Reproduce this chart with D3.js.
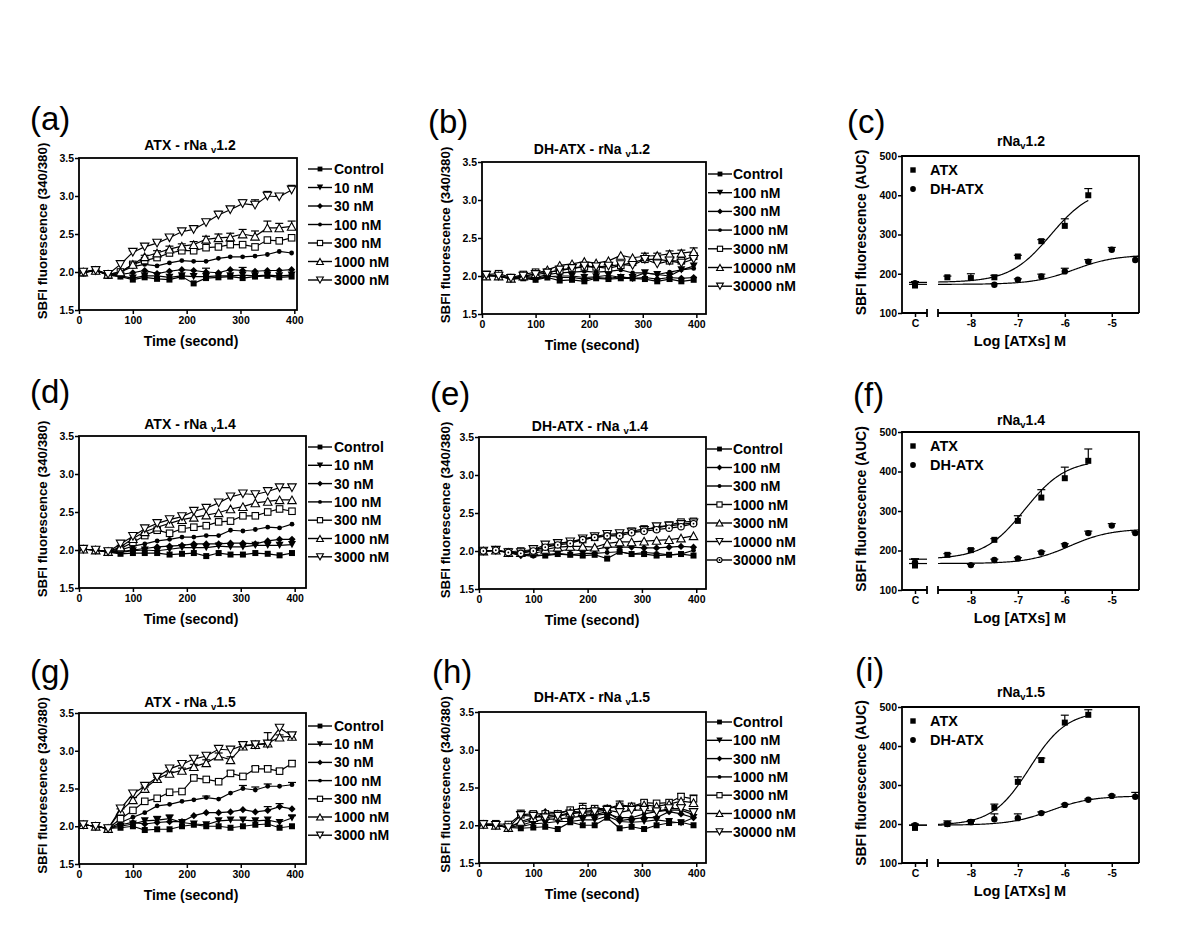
<!DOCTYPE html>
<html><head><meta charset="utf-8">
<script src="https://cdn.jsdelivr.net/npm/d3@7"></script>
<style>body{margin:0;background:#fff} svg{display:block}</style>
</head><body><svg id="c" width="1200" height="942"></svg>
<script>
// ---------------- DATA ----------------
const time = [8,31,54,77,100,122,145,168,191,213,236,259,281,304,327,350,372,395];
const timeTicks = [0,100,200,300,400];
const ratioTicks = [1.5,2.0,2.5,3.0,3.5];
const aucTicks = [100,200,300,400,500];
const logTicks = [-8,-7,-6,-5];

const atxLegend = ["Control","10 nM","30 nM","100 nM","300 nM","1000 nM","3000 nM"];
const dhLegend  = ["Control","100 nM","300 nM","1000 nM","3000 nM","10000 nM","30000 nM"];

// (a) ATX - rNav1.2 : Control,10,30,100,300,1000,3000 nM
const a_vals = [
 [1.98,2.03,1.96,1.94,1.90,1.93,1.91,1.90,1.94,1.85,1.92,1.93,1.94,1.92,1.94,1.95,1.93,1.94],
 [1.99,2.02,1.96,1.95,1.92,1.95,1.95,1.93,1.95,1.94,1.94,1.95,1.95,1.96,1.95,1.96,1.95,1.96],
 [2.00,2.03,1.97,1.97,1.99,2.02,1.98,2.01,2.03,2.02,2.00,1.99,2.03,2.02,2.01,2.02,2.02,2.03],
 [2.00,2.02,1.97,2.00,2.07,2.10,2.08,2.12,2.15,2.14,2.14,2.18,2.20,2.20,2.21,2.23,2.27,2.25],
 [2.00,2.02,1.96,2.00,2.10,2.15,2.19,2.25,2.28,2.28,2.32,2.33,2.36,2.36,2.33,2.42,2.41,2.45],
 [2.00,2.02,1.97,2.00,2.10,2.20,2.25,2.30,2.34,2.36,2.43,2.45,2.46,2.50,2.47,2.58,2.58,2.60],
 [2.00,2.02,1.97,2.10,2.26,2.33,2.38,2.45,2.53,2.56,2.65,2.75,2.82,2.90,2.88,3.00,2.99,3.08]];
const a_err = [null,null,
 [0,0,0,0,0,0,0,0,0,0,0.05,0,0,0.04,0,0,0,0],
 null,null,
 [0,0,0,0,0.02,0.02,0.03,0.04,0.03,0.04,0.04,0.05,0.05,0.06,0.07,0.09,0.06,0.07],
 [0,0,0,0,0.02,0.02,0.02,0.03,0.02,0.02,0.04,0.05,0.03,0.05,0.07,0.06,0.02,0.06]];

// (b) DH-ATX - rNav1.2 : Control,100,300,1000,3000,10000,30000 nM
const b_vals = [
 [2.00,2.00,1.96,1.97,1.95,1.98,1.94,1.95,1.93,1.97,1.96,1.97,1.97,1.96,1.93,1.96,1.93,1.95],
 [2.01,2.00,1.96,1.98,1.96,1.99,2.00,2.00,1.98,1.99,2.01,1.98,1.98,2.04,2.02,2.00,2.08,2.13],
 [2.02,2.00,1.97,1.98,1.97,2.00,1.98,1.98,1.96,1.98,1.97,1.99,1.97,1.98,1.96,1.98,1.97,1.98],
 [2.01,2.00,1.97,2.00,1.98,2.02,2.04,2.05,2.06,2.05,2.06,2.08,2.04,2.04,2.02,2.05,2.08,2.10],
 [2.02,2.03,1.98,2.02,2.05,2.05,2.07,2.10,2.12,2.12,2.10,2.14,2.18,2.22,2.22,2.20,2.20,2.26],
 [2.00,2.00,1.97,2.00,2.03,2.08,2.14,2.16,2.19,2.17,2.20,2.27,2.24,2.26,2.27,2.29,2.30,2.32],
 [2.01,2.00,1.97,2.00,2.02,2.04,2.08,2.10,2.13,2.12,2.13,2.15,2.14,2.22,2.16,2.20,2.17,2.22]];
const b_err = [null,null,null,null,
 [0,0,0,0,0,0,0,0,0,0,0,0,0,0,0,0,0,0.04],
 [0,0,0,0,0,0,0,0,0,0,0,0,0,0.04,0.03,0.04,0.04,0.05],
 null];

// (d) ATX - rNav1.4
const d_vals = [
 [2.01,2.00,1.97,1.95,1.96,1.96,1.96,1.94,1.95,1.96,1.92,1.96,1.94,1.94,1.96,1.95,1.93,1.96],
 [2.01,2.00,1.97,1.97,1.99,2.00,1.99,2.01,2.03,2.03,2.03,2.05,2.04,2.04,2.06,2.06,2.06,2.07],
 [2.01,2.00,1.98,1.98,2.00,2.02,2.04,2.05,2.06,2.08,2.08,2.08,2.09,2.09,2.08,2.12,2.14,2.14],
 [2.01,2.00,1.98,2.00,2.05,2.08,2.12,2.14,2.17,2.17,2.19,2.19,2.26,2.25,2.27,2.30,2.29,2.34],
 [2.01,2.00,1.98,2.02,2.10,2.19,2.26,2.22,2.28,2.30,2.32,2.37,2.38,2.45,2.45,2.50,2.54,2.51],
 [2.01,2.00,1.98,2.04,2.15,2.24,2.30,2.35,2.40,2.43,2.46,2.49,2.54,2.57,2.62,2.64,2.66,2.66],
 [2.01,2.00,1.98,2.08,2.18,2.28,2.35,2.40,2.44,2.51,2.55,2.62,2.70,2.74,2.73,2.77,2.82,2.82]];
const d_err = [null,null,null,null,null,null,null];

// (e) DH-ATX - rNav1.4
const e_vals = [
 [2.00,2.00,1.99,1.96,1.95,1.94,1.96,1.95,1.94,1.95,1.90,1.99,1.96,1.96,1.94,1.95,1.96,1.94],
 [2.00,2.01,1.98,1.94,1.97,2.00,2.00,2.02,2.00,2.02,2.05,2.05,2.05,2.04,2.04,2.05,2.06,2.05],
 [2.00,2.00,1.98,1.95,1.93,1.95,1.97,1.95,1.97,1.97,1.98,1.99,1.96,1.98,1.97,1.95,1.96,2.01],
 [2.00,2.01,1.99,2.00,2.02,2.05,2.10,2.12,2.15,2.18,2.20,2.22,2.26,2.29,2.30,2.34,2.38,2.39],
 [2.00,2.01,1.98,1.98,2.00,2.02,2.05,2.06,2.06,2.05,2.10,2.12,2.12,2.13,2.14,2.15,2.17,2.20],
 [2.00,2.01,1.98,1.98,2.02,2.08,2.10,2.12,2.16,2.19,2.22,2.23,2.25,2.27,2.32,2.33,2.35,2.37],
 [2.00,2.01,1.98,1.97,2.00,2.05,2.08,2.10,2.15,2.18,2.20,2.20,2.24,2.26,2.28,2.30,2.32,2.36]];
const e_err = [null,null,null,null,null,null,null];

// (g) ATX - rNav1.5
const g_vals = [
 [2.02,2.00,1.97,1.98,2.00,1.95,1.96,1.96,2.00,2.02,2.00,2.00,1.98,2.00,2.02,2.03,1.98,2.00],
 [2.02,2.00,1.97,2.00,2.03,2.07,2.08,2.10,2.05,2.03,2.02,2.07,2.08,2.08,2.07,2.08,2.05,2.11],
 [2.02,2.00,1.97,2.02,2.05,2.03,2.05,2.06,2.06,2.14,2.18,2.18,2.19,2.22,2.19,2.21,2.26,2.23],
 [2.02,2.00,1.97,2.05,2.12,2.18,2.27,2.29,2.33,2.35,2.38,2.36,2.44,2.50,2.48,2.53,2.53,2.55],
 [2.02,2.00,1.97,2.10,2.21,2.33,2.37,2.45,2.46,2.64,2.62,2.59,2.70,2.66,2.76,2.76,2.73,2.83],
 [2.02,2.00,1.97,2.20,2.35,2.50,2.63,2.70,2.74,2.79,2.84,2.93,2.88,3.06,3.08,3.10,3.18,3.19],
 [2.02,2.00,1.97,2.23,2.43,2.53,2.65,2.76,2.82,2.89,2.93,3.02,3.01,3.07,3.08,3.09,3.30,3.20]];
const g_err = [null,
 [0,0,0,0,0,0,0.05,0.05,0,0,0,0,0,0,0,0,0,0.03],
 [0,0,0,0,0,0,0,0,0,0,0,0,0,0,0,0.05,0.04,0],
 [0,0,0,0,0,0,0,0,0,0,0.02,0,0,0.04,0.04,0.03,0,0.03],
 [0,0,0,0,0,0,0,0,0,0.03,0,0,0.03,0,0.03,0.04,0.03,0.04],
 [0,0,0,0.03,0.03,0.02,0.02,0.02,0.03,0.03,0.04,0.04,0.04,0.02,0.02,0.02,0.03,0.03],
 [0,0,0,0.04,0.04,0.02,0.02,0.02,0.03,0.03,0.04,0.04,0.03,0.02,0.03,0.15,0.03,0.03]];

// (h) DH-ATX - rNav1.5
const h_vals = [
 [2.00,2.00,1.97,1.96,1.97,1.98,1.95,2.04,2.00,2.00,2.10,1.96,1.98,1.95,2.00,2.03,2.04,2.00],
 [2.00,2.00,1.97,1.98,2.02,2.03,2.05,2.05,2.07,2.07,2.12,2.05,2.04,2.05,2.07,2.05,2.03,2.10],
 [2.01,2.01,1.98,2.03,2.08,2.18,2.16,2.20,2.15,2.14,2.18,2.06,2.08,2.10,2.10,2.18,2.15,2.10],
 [2.00,2.00,1.97,2.00,2.05,2.08,2.08,2.10,2.12,2.13,2.15,2.10,2.10,2.15,2.18,2.20,2.20,2.14],
 [2.02,2.02,2.01,2.14,2.15,2.15,2.15,2.20,2.22,2.22,2.22,2.25,2.25,2.30,2.29,2.30,2.38,2.35],
 [2.01,2.00,1.97,2.05,2.10,2.13,2.12,2.17,2.18,2.20,2.22,2.27,2.25,2.27,2.25,2.28,2.32,2.30],
 [2.01,2.00,1.97,2.13,2.12,2.10,2.12,2.15,2.17,2.18,2.20,2.17,2.20,2.20,2.18,2.22,2.22,2.17]];
const h_err = [null,null,null,null,
 [0,0,0,0.06,0.03,0,0.04,0,0.07,0,0,0.07,0,0.03,0,0,0.04,0.05],
 null,null];

// Dose-response panels: log concentration (M)
const atxLog = [-8.5,-8,-7.5,-7,-6.5,-6,-5.5];
const c_dhLog = [-7.5,-7,-6.5,-6,-5.5,-5,-4.5];
const f_dhLog = [-8,-7.5,-7,-6.5,-6,-5.5,-5,-4.5];
const i_dhLog = [-8.5,-8,-7.5,-7,-6.5,-6,-5.5,-5,-4.5];

const c_atx = [191,189,191,244,283,322,400], c_atxErr = [3,11,5,3,4,18,17];
const c_dh  = [172,185,193,206,231,261,235], c_dhErr  = [3,2,6,8,5,6,9];
const c_ctrl = [170,176], c_ctrlErr = [10,4];          // [ATX, DH-ATX]
const c_fitAtx = [178,420,-6.3,1.0], c_fitDh = [173,248,-5.8,1.0]; // bottom, top, logEC50, hill

const f_atx = [189,201,227,275,334,383,427], f_atxErr = [3,3,3,13,20,28,30];
const f_dh  = [163,176,180,195,214,244,263,244], f_dhErr = [2,2,2,3,3,5,5,3];
const f_ctrl = [162,170], f_ctrlErr = [17,8];
const f_fitAtx = [178,430,-6.85,1.0], f_fitDh = [167,255,-5.9,1.0];

const i_atx = [200,205,242,308,364,460,480], i_atxErr = [8,4,9,13,5,19,13];
const i_dh  = [200,205,212,215,228,249,262,272,270], i_dhErr = [3,2,14,11,3,2,2,2,11];
const i_ctrl = [190,197], i_ctrlErr = [8,3];
const i_fitAtx = [197,490,-6.75,1.1], i_fitDh = [197,272,-6.3,1.0];

// ---------------- DRAWING ----------------
const FONT = 'Arial, "Liberation Sans", sans-serif';
const svg = d3.select('#c');

const atxMarkers = ['fsq','fdn','fdia','fcir','osq','oup','odn'];
const dh12Markers = ['fsq','fdn','fdia','fcir','osq','oup','odn'];
const dh14Markers = ['fsq','fdia','fcir','osq','oup','odn','ocir'];

function marker(g, type, x, y, k){
  k = k || 1;
  const tri = (w, up) => { w *= k; const h = w*0.9; const s = up?1:-1;
    return `M${x},${y - s*h/2}L${x + w/2},${y + s*h/2}L${x - w/2},${y + s*h/2}Z`; };
  const sq = (s) => { s *= k; return [x-s/2, y-s/2, s]; };
  switch(type){
    case 'fsq': { const [a,b,s] = sq(6); g.append('rect').attr('x',a).attr('y',b).attr('width',s).attr('height',s).attr('fill','#000'); break; }
    case 'osq': { const [a,b,s] = sq(6.5); g.append('rect').attr('x',a).attr('y',b).attr('width',s).attr('height',s).attr('fill','#fff').attr('stroke','#000').attr('stroke-width',1.1); break; }
    case 'fdn': g.append('path').attr('d',tri(8,false)).attr('fill','#000'); break;
    case 'odn': g.append('path').attr('d',tri(8.5,false)).attr('fill','#fff').attr('stroke','#000').attr('stroke-width',1.1); break;
    case 'oup': g.append('path').attr('d',tri(8.5,true)).attr('fill','#fff').attr('stroke','#000').attr('stroke-width',1.1); break;
    case 'fdia': { const r = 3.6*k; g.append('path').attr('d',`M${x},${y-r}L${x+r},${y}L${x},${y+r}L${x-r},${y}Z`).attr('fill','#000'); break; }
    case 'fcir': g.append('circle').attr('cx',x).attr('cy',y).attr('r',2.4*k).attr('fill','#000'); break;
    case 'dcir': g.append('circle').attr('cx',x).attr('cy',y).attr('r',3.2*k).attr('fill','#000'); break;
    case 'ocir': g.append('circle').attr('cx',x).attr('cy',y).attr('r',3.2*k).attr('fill','#fff').attr('stroke','#000').attr('stroke-width',1.1);
                 g.append('circle').attr('cx',x).attr('cy',y).attr('r',0.9).attr('fill','#000'); break;
  }
}

function styleAxis(sel, fs){
  sel.select('.domain').remove();
  sel.attr('font-family', FONT).attr('font-size', fs || 10.5).attr('font-weight','bold');
  sel.selectAll('text').attr('fill','#000');
  sel.selectAll('line').attr('stroke','#000').attr('stroke-width',1.5);
}

function errBar(g, x, yv, ytop){
  g.append('line').attr('x1',x).attr('x2',x).attr('y1',yv).attr('y2',ytop).attr('stroke','#000').attr('stroke-width',1.2);
  g.append('line').attr('x1',x-4).attr('x2',x+4).attr('y1',ytop).attr('y2',ytop).attr('stroke','#000').attr('stroke-width',1.2);
}

function title(g, parts, x, y){
  const t = g.append('text').attr('x',x).attr('y',y).attr('text-anchor','middle')
    .attr('font-family',FONT).attr('font-weight','bold').attr('font-size',14).attr('fill','#000');
  t.append('tspan').text(parts[0]);
  t.append('tspan').attr('font-size',9.5).attr('dy',3).text(parts[1]);
  t.append('tspan').attr('dy',-3).text(parts[2]);
}

function panelLabel(txt, x, y){
  svg.append('text').attr('x',x).attr('y',y).attr('font-family',FONT).attr('font-size',33).attr('fill','#000').text(txt);
}

function timePanel(o){
  const g = svg.append('g');
  const x = d3.scaleLinear().domain([0,o.xmax]).range([o.x0,o.x1]);
  const y = d3.scaleLinear().domain([1.5,3.5]).range([o.y1,o.y0]);
  g.append('g').attr('transform',`translate(${o.x0},0)`)
    .call(d3.axisLeft(y).tickValues(ratioTicks).tickFormat(d3.format('.1f')).tickSize(4).tickPadding(1))
    .call(s=>styleAxis(s));
  g.append('g').attr('transform',`translate(0,${o.y1})`)
    .call(d3.axisBottom(x).tickValues(timeTicks).tickSize(4).tickPadding(3))
    .call(s=>styleAxis(s));
  // series
  o.vals.forEach((vals, si) => {
    const sg = g.append('g');
    const err = o.err[si];
    if (err) err.forEach((e,i)=>{ if(e>0) errBar(sg, x(time[i]), y(vals[i]), y(vals[i]+e)); });
    sg.append('path').datum(vals).attr('fill','none').attr('stroke','#000').attr('stroke-width',1.2)
      .attr('d', d3.line().x((d,i)=>x(time[i])).y(d=>y(d)));
    vals.forEach((v,i)=>marker(sg, o.markers[si], x(time[i]), y(v)));
  });
  g.append('rect').attr('x',o.x0).attr('y',o.y0).attr('width',o.x1-o.x0).attr('height',o.y1-o.y0)
    .attr('fill','none').attr('stroke','#000').attr('stroke-width',1.8);
  // legend
  o.labels.forEach((lab, i) => {
    const ly = o.legY + i*o.legStep;
    g.append('line').attr('x1',o.legX[0]).attr('x2',o.legX[1]).attr('y1',ly).attr('y2',ly).attr('stroke','#000').attr('stroke-width',1.4);
    marker(g, o.markers[i], (o.legX[0]+o.legX[1])/2, ly, 0.8);
    g.append('text').attr('x',o.legX[2]).attr('y',ly).attr('dy','0.36em').attr('font-family',FONT)
      .attr('font-weight','bold').attr('font-size',14).attr('fill','#000').text(lab);
  });
  title(g, o.title, o.titleX, o.titleY);
  g.append('text').attr('transform',`translate(${o.ylabX},${(o.y0+o.y1)/2 - 3}) rotate(-90)`).attr('text-anchor','middle')
    .attr('font-family',FONT).attr('font-weight','bold').attr('font-size',13.3).attr('fill','#000').text('SBFI fluorescence (340/380)');
  g.append('text').attr('x',o.xlabX).attr('y',o.y1+36).attr('text-anchor','middle')
    .attr('font-family',FONT).attr('font-weight','bold').attr('font-size',14).attr('fill','#000').text('Time (second)');
}

function sigmoid(p, lx){ return p[0] + (p[1]-p[0])/(1+Math.pow(10,(p[2]-lx)*p[3])); }

function dosePanel(o){
  const g = svg.append('g');
  const X0 = 902, X1 = 1139, BR1 = 927, BR2 = 938, XC = 915;
  const x = d3.scaleLinear().domain([-8.7,-4.42]).range([BR2, X1]);
  const y = d3.scaleLinear().domain([100,500]).range([o.y1,o.y0]);
  g.append('g').attr('transform',`translate(${X0},0)`)
    .call(d3.axisLeft(y).tickValues(aucTicks).tickSize(4).tickPadding(1))
    .call(s=>styleAxis(s));
  g.append('g').attr('transform',`translate(0,${o.y1})`)
    .call(d3.axisBottom(x).tickValues(logTicks).tickFormat(d=>String(d)).tickSize(4).tickPadding(3))
    .call(s=>styleAxis(s));
  g.append('g').attr('transform',`translate(${XC},${o.y1})`)
    .call(d3.axisBottom(d3.scaleLinear().domain([0,1]).range([0,1])).tickValues([0]).tickFormat(()=> 'C').tickSize(4).tickPadding(3))
    .call(s=>styleAxis(s));
  // frame with broken bottom axis
  g.append('path').attr('d',`M${X0},${o.y1}V${o.y0}H${X1}V${o.y1}`).attr('fill','none').attr('stroke','#000').attr('stroke-width',1.8);
  g.append('path').attr('d',`M${X0},${o.y1}H${BR1}M${BR2},${o.y1}H${X1}M${BR1},${o.y1-4}V${o.y1+4}M${BR2},${o.y1-4}V${o.y1+4}`)
    .attr('fill','none').attr('stroke','#000').attr('stroke-width',1.8);
  // fit curves
  const line = d3.line().x(d=>x(d[0])).y(d=>y(d[1]));
  [[o.fitAtx, -5.5],[o.fitDh, -4.42]].forEach(([p, end]) => {
    const pts = d3.range(-8.7, end+0.0001, 0.02).map(l=>[l, sigmoid(p,l)]);
    g.append('path').datum(pts).attr('d',line).attr('fill','none').attr('stroke','#000').attr('stroke-width',1.2);
    g.append('line').attr('x1',XC-6).attr('x2',BR1).attr('y1',y(p[0])).attr('y2',y(p[0])).attr('stroke','#000').attr('stroke-width',1.2);
  });
  // points
  const pts = (lx, v, e, type) => v.forEach((d,i)=>{ errBar(g, x(lx[i]), y(d), y(d+e[i])); marker(g,type,x(lx[i]),y(d)); });
  pts(o.dhLog, o.dh, o.dhErr, 'dcir');
  pts(atxLog, o.atx, o.atxErr, 'fsq');
  errBar(g, XC, y(o.ctrl[1]), y(o.ctrl[1]+o.ctrlErr[1])); marker(g,'dcir',XC,y(o.ctrl[1]));
  errBar(g, XC, y(o.ctrl[0]), y(o.ctrl[0]+o.ctrlErr[0])); marker(g,'fsq',XC,y(o.ctrl[0]));
  // legend
  [['fsq','ATX'],['dcir','DH-ATX']].forEach(([m,t],i)=>{
    const ly = o.y0 + 14 + i*19;
    marker(g, m, 913, ly, 0.9);
    g.append('text').attr('x',930).attr('y',ly).attr('dy','0.36em').attr('font-family',FONT).attr('font-weight','bold')
      .attr('font-size',14.5).attr('fill','#000').text(t);
  });
  title(g, ['rNa','v', o.sub], 1021, o.titleY);
  g.append('text').attr('transform',`translate(866,${(o.y0+o.y1)/2 - 2}) rotate(-90)`).attr('text-anchor','middle')
    .attr('font-family',FONT).attr('font-weight','bold').attr('font-size',14).attr('fill','#000').text('SBFI fluorescence (AUC)');
  g.append('text').attr('x',1020).attr('y',o.y1+33).attr('text-anchor','middle')
    .attr('font-family',FONT).attr('font-weight','bold').attr('font-size',14.5).attr('fill','#000').text('Log [ATXs] M');
}

// row 1
timePanel({vals:a_vals, err:a_err, labels:atxLegend, markers:atxMarkers, x0:79, x1:297, y0:158, y1:310, xmax:405,
  title:['ATX - rNa ','v','1.2'], titleX:190, titleY:150, legX:[308,332,334], legY:169, legStep:18.5, ylabX:47, xlabX:191});
timePanel({vals:b_vals, err:b_err, labels:dhLegend, markers:dh12Markers, x0:482, x1:706, y0:162, y1:314, xmax:418,
  title:['DH-ATX - rNa ','v','1.2'], titleX:592, titleY:154, legX:[708,732,733], legY:174, legStep:18.7, ylabX:450, xlabX:592});
dosePanel({atx:c_atx, atxErr:c_atxErr, dh:c_dh, dhErr:c_dhErr, dhLog:c_dhLog, ctrl:c_ctrl, ctrlErr:c_ctrlErr,
  fitAtx:c_fitAtx, fitDh:c_fitDh, y0:156, y1:313, titleY:146, sub:'1.2'});
// row 2
timePanel({vals:d_vals, err:d_err, labels:atxLegend, markers:atxMarkers, x0:79, x1:306, y0:436, y1:588, xmax:421,
  title:['ATX - rNa ','v','1.4'], titleX:190, titleY:429, legX:[308,332,334], legY:447, legStep:18.3, ylabX:47, xlabX:191});
timePanel({vals:e_vals, err:e_err, labels:dhLegend, markers:dh14Markers, x0:479, x1:706, y0:437, y1:589, xmax:418,
  title:['DH-ATX - rNa ','v','1.4'], titleX:590, titleY:431, legX:[707,732,733], legY:449, legStep:18.5, ylabX:450, xlabX:592});
dosePanel({atx:f_atx, atxErr:f_atxErr, dh:f_dh, dhErr:f_dhErr, dhLog:f_dhLog, ctrl:f_ctrl, ctrlErr:f_ctrlErr,
  fitAtx:f_fitAtx, fitDh:f_fitDh, y0:432, y1:590, titleY:425, sub:'1.4'});
// row 3
timePanel({vals:g_vals, err:g_err, labels:atxLegend, markers:atxMarkers, x0:79, x1:306, y0:713, y1:864, xmax:421,
  title:['ATX - rNa ','v','1.5'], titleX:190, titleY:707, legX:[308,332,334], legY:726, legStep:18.2, ylabX:47, xlabX:191});
timePanel({vals:h_vals, err:h_err, labels:dhLegend, markers:dh12Markers, x0:479, x1:706, y0:712, y1:863, xmax:418,
  title:['DH-ATX - rNa ','v','1.5'], titleX:592, titleY:702, legX:[707,732,733], legY:722, legStep:18.3, ylabX:450, xlabX:592});
dosePanel({atx:i_atx, atxErr:i_atxErr, dh:i_dh, dhErr:i_dhErr, dhLog:i_dhLog, ctrl:i_ctrl, ctrlErr:i_ctrlErr,
  fitAtx:i_fitAtx, fitDh:i_fitDh, y0:707, y1:863, titleY:697, sub:'1.5'});

// panel letters
panelLabel('(a)',30,130); panelLabel('(b)',428,133); panelLabel('(c)',847,133);
panelLabel('(d)',30,403); panelLabel('(e)',430,405); panelLabel('(f)',853,406);
panelLabel('(g)',30,683); panelLabel('(h)',432,683); panelLabel('(i)',855,681);
</script></body></html>
